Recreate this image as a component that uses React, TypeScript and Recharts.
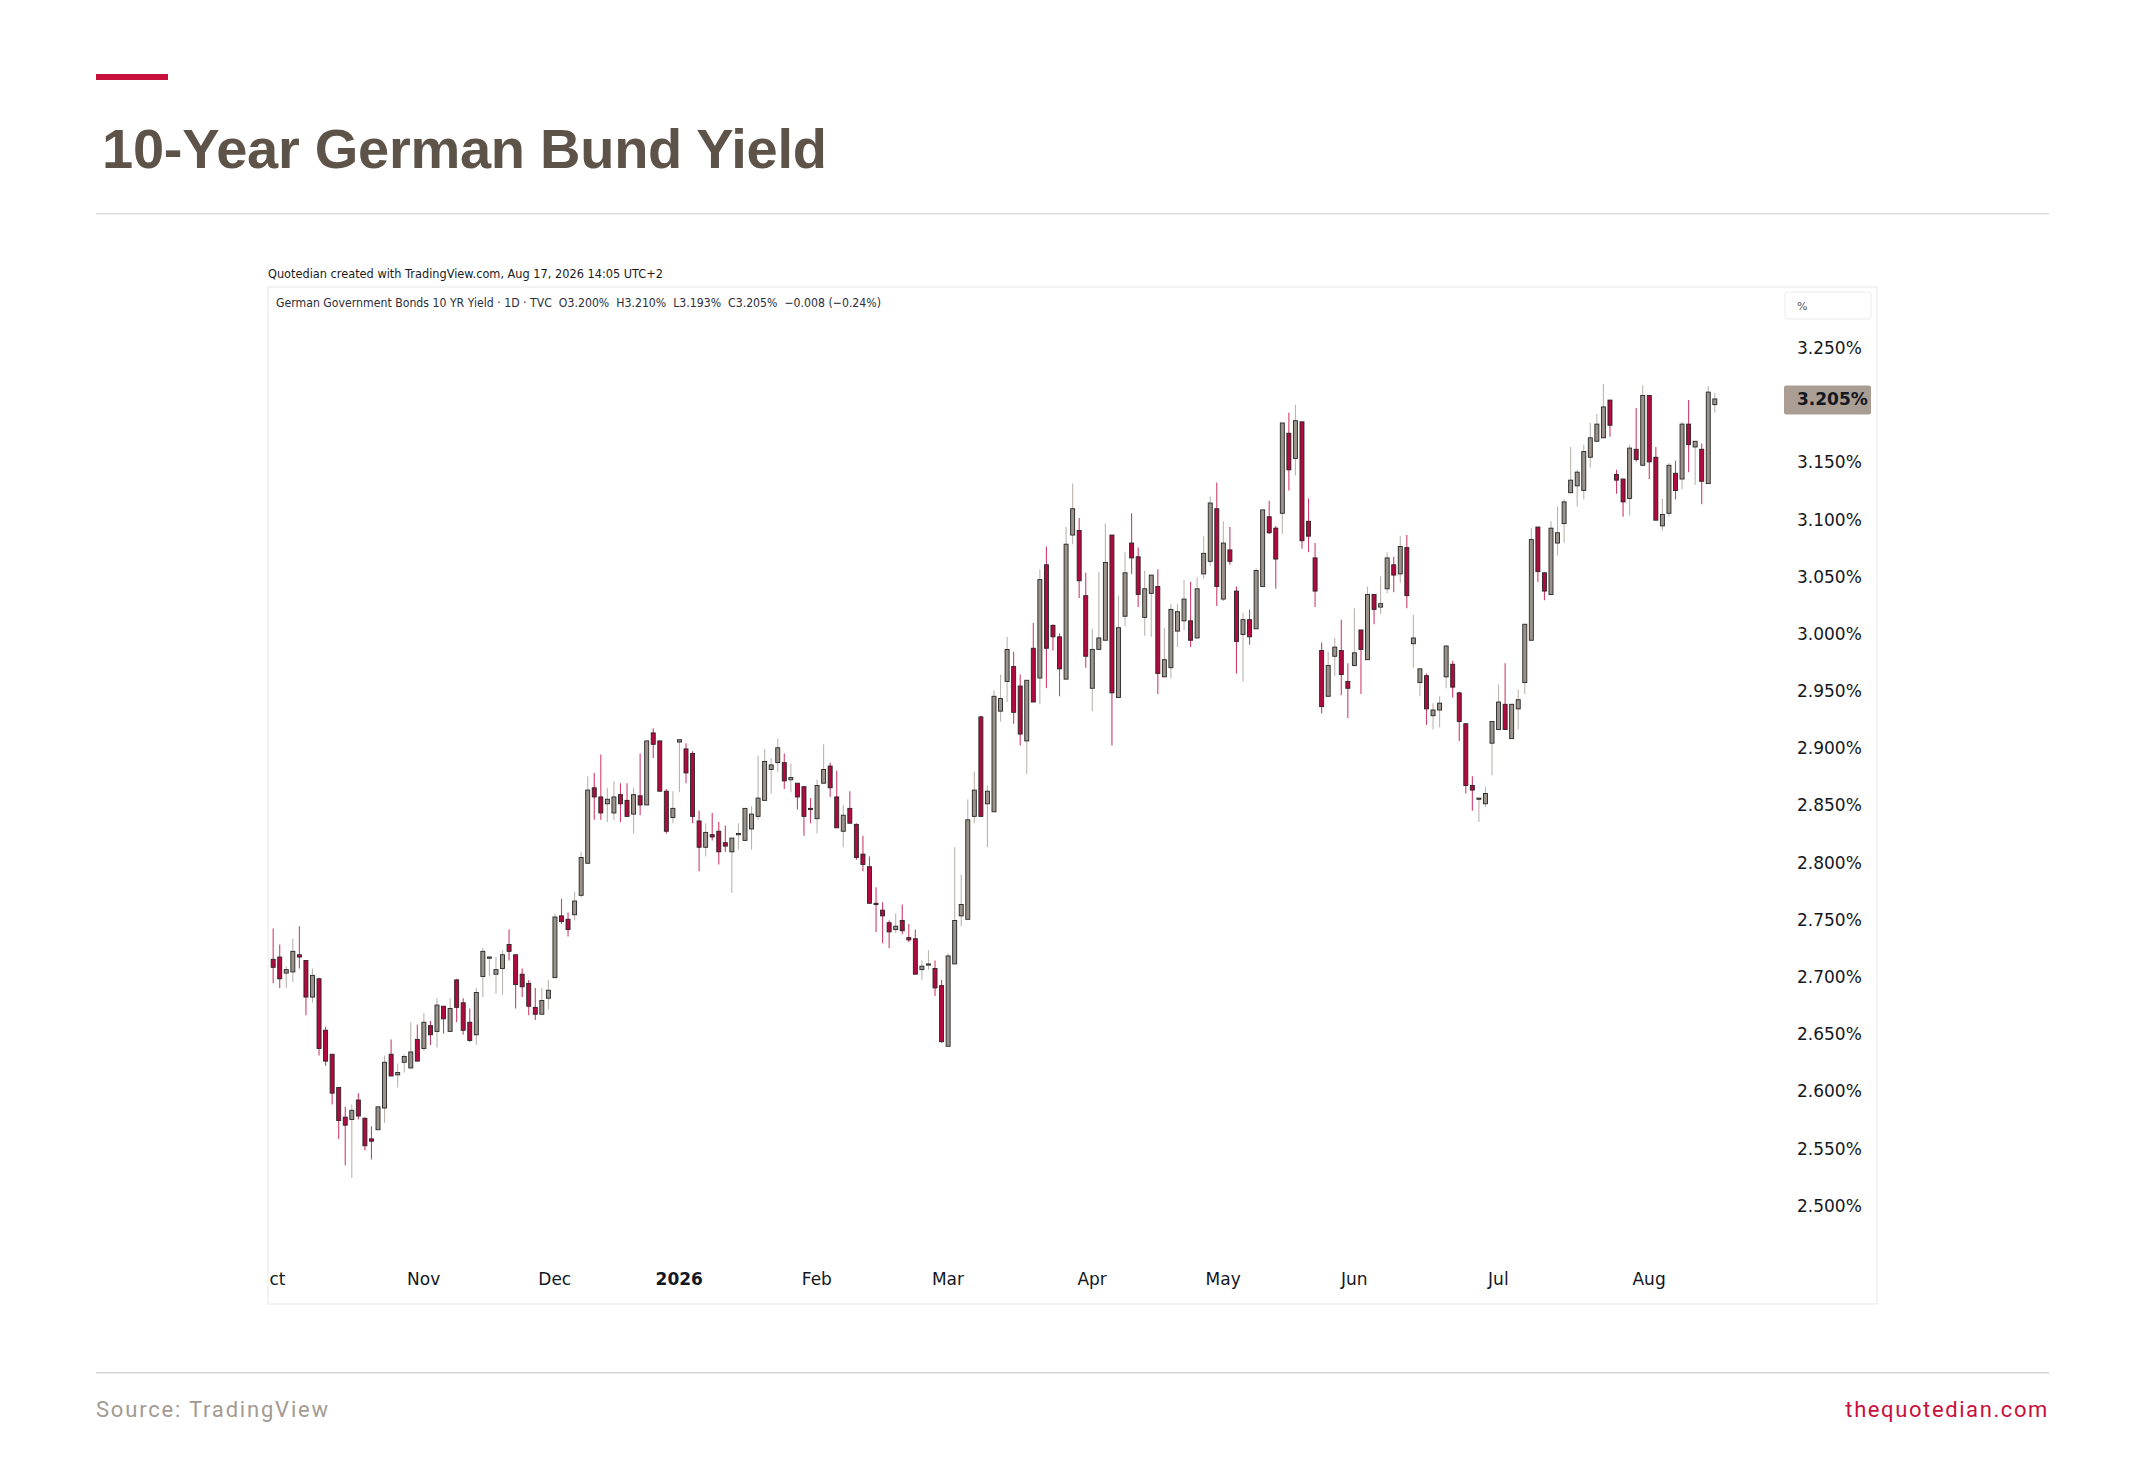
import React from "react";
import { ComposedChart, Bar, XAxis, YAxis } from "recharts";

// ---- trading days (TVC daily bars) ----
const DAYS_2025_10 = [1, 2, 3, 6, 7, 8, 9, 10, 13, 14, 15, 16, 17, 20, 21, 22, 23, 24, 27, 28, 29, 30, 31];
const DAYS_2025_11 = [3, 4, 5, 6, 7, 10, 11, 12, 13, 14, 17, 18, 19, 20, 21, 24, 25, 26, 27, 28];
const DAYS_2025_12 = [1, 2, 3, 4, 5, 8, 9, 10, 11, 12, 15, 16, 17, 18, 19, 22, 23, 29, 30];
const DAYS_2026_01 = [2, 5, 6, 7, 8, 9, 12, 13, 14, 15, 16, 19, 20, 21, 22, 23, 26, 27, 28, 29, 30];
const DAYS_2026_02 = [2, 3, 4, 5, 6, 9, 10, 11, 12, 13, 16, 17, 18, 19, 20, 23, 24, 25, 26, 27];
const DAYS_2026_03 = [2, 3, 4, 5, 6, 9, 10, 11, 12, 13, 16, 17, 18, 19, 20, 23, 24, 25, 26, 27, 30, 31];
const DAYS_2026_04 = [1, 2, 7, 8, 9, 10, 13, 14, 15, 16, 17, 20, 21, 22, 23, 24, 27, 28, 29, 30];
const DAYS_2026_05 = [4, 5, 6, 7, 8, 11, 12, 13, 14, 15, 18, 19, 20, 21, 22, 25, 26, 27, 28, 29];
const DAYS_2026_06 = [1, 2, 3, 4, 5, 8, 9, 10, 11, 12, 15, 16, 17, 18, 19, 22, 23, 24, 25, 26, 29, 30];
const DAYS_2026_07 = [1, 2, 3, 6, 7, 8, 9, 10, 13, 14, 15, 16, 17, 20, 21, 22, 23, 24, 27, 28, 29, 30, 31];
const DAYS_2026_08 = [3, 4, 5, 6, 7, 10, 11, 12, 13, 14, 17];

const MONTHS: [number, number, number[]][] = [
  [2025, 10, DAYS_2025_10],
  [2025, 11, DAYS_2025_11],
  [2025, 12, DAYS_2025_12],
  [2026, 1, DAYS_2026_01],
  [2026, 2, DAYS_2026_02],
  [2026, 3, DAYS_2026_03],
  [2026, 4, DAYS_2026_04],
  [2026, 5, DAYS_2026_05],
  [2026, 6, DAYS_2026_06],
  [2026, 7, DAYS_2026_07],
  [2026, 8, DAYS_2026_08],
];
// first label is shown cut by the pane edge in the source ("Oct" -> "ct")
const MONTH_LABELS = ["ct", "Nov", "Dec", "2026", "Feb", "Mar", "Apr", "May", "Jun", "Jul", "Aug"];

// ---- OHLC (%) ----
const OPEN = [
  2.715, 2.717, 2.703, 2.704, 2.719, 2.714, 2.682, 2.698, 2.653, 2.632,
  2.603, 2.577, 2.575, 2.592, 2.576, 2.558, 2.566, 2.585, 2.632, 2.614,
  2.625, 2.620, 2.645, 2.637, 2.657, 2.652, 2.674, 2.652, 2.697, 2.677,
  2.660, 2.649, 2.700, 2.717, 2.702, 2.707, 2.728, 2.719, 2.702, 2.694,
  2.673, 2.667, 2.681, 2.699, 2.753, 2.750, 2.754, 2.771, 2.799, 2.865,
  2.857, 2.851, 2.843, 2.859, 2.854, 2.842, 2.858, 2.850, 2.913, 2.906,
  2.862, 2.839, 2.905, 2.899, 2.895, 2.836, 2.813, 2.824, 2.827, 2.817,
  2.809, 2.824, 2.819, 2.829, 2.840, 2.854, 2.881, 2.887, 2.887, 2.872,
  2.869, 2.866, 2.847, 2.838, 2.869, 2.884, 2.857, 2.827, 2.847, 2.833,
  2.807, 2.796, 2.764, 2.758, 2.747, 2.741, 2.749, 2.734, 2.733, 2.706,
  2.711, 2.707, 2.692, 2.639, 2.711, 2.753, 2.750, 2.840, 2.927, 2.851,
  2.844, 2.932, 2.958, 2.971, 2.954, 2.906, 2.987, 2.961, 3.060, 3.007,
  2.997, 2.960, 3.086, 3.090, 3.033, 2.952, 2.986, 2.994, 3.086, 2.944,
  3.015, 3.079, 3.067, 3.014, 3.035, 3.041, 2.962, 2.970, 3.002, 3.011,
  3.011, 2.996, 3.052, 3.063, 3.109, 3.030, 3.073, 3.037, 2.999, 3.012,
  3.004, 3.041, 3.102, 3.092, 3.105, 3.175, 3.153, 3.185, 3.098, 3.066,
  2.985, 2.945, 2.980, 2.985, 2.958, 2.972, 3.003, 2.977, 3.034, 3.023,
  3.039, 3.060, 3.052, 3.075, 2.991, 2.957, 2.963, 2.928, 2.933, 2.962,
  2.973, 2.948, 2.921, 2.867, 2.856, 2.851, 2.904, 2.916, 2.938, 2.908,
  2.934, 2.957, 2.994, 3.093, 3.053, 3.034, 3.079, 3.096, 3.123, 3.129,
  3.125, 3.154, 3.168, 3.171, 3.204, 3.139, 3.135, 3.118, 3.161, 3.147,
  3.208, 3.154, 3.094, 3.105, 3.140, 3.135, 3.183, 3.163, 3.161, 3.131,
  3.200,
];
const HIGH = [
  2.742, 2.728, 2.709, 2.733, 2.744, 2.714, 2.707, 2.699, 2.656, 2.632,
  2.603, 2.586, 2.588, 2.598, 2.577, 2.569, 2.586, 2.631, 2.645, 2.624,
  2.632, 2.660, 2.658, 2.668, 2.661, 2.681, 2.674, 2.681, 2.698, 2.681,
  2.672, 2.690, 2.725, 2.718, 2.717, 2.723, 2.741, 2.719, 2.707, 2.697,
  2.690, 2.690, 2.697, 2.755, 2.768, 2.756, 2.774, 2.809, 2.875, 2.878,
  2.894, 2.865, 2.871, 2.869, 2.869, 2.865, 2.895, 2.906, 2.917, 2.906,
  2.864, 2.862, 2.907, 2.904, 2.897, 2.845, 2.834, 2.843, 2.835, 2.832,
  2.821, 2.834, 2.847, 2.849, 2.893, 2.899, 2.891, 2.908, 2.895, 2.886,
  2.869, 2.866, 2.856, 2.872, 2.903, 2.887, 2.880, 2.850, 2.862, 2.834,
  2.823, 2.805, 2.778, 2.765, 2.749, 2.755, 2.763, 2.746, 2.741, 2.714,
  2.723, 2.714, 2.697, 2.720, 2.813, 2.789, 2.855, 2.879, 2.928, 2.867,
  2.950, 2.964, 2.997, 2.984, 2.964, 2.959, 3.009, 3.056, 3.076, 3.008,
  3.000, 3.093, 3.131, 3.101, 3.053, 3.004, 3.054, 3.096, 3.086, 3.033,
  3.071, 3.105, 3.075, 3.055, 3.051, 3.056, 3.005, 3.026, 3.026, 3.047,
  3.045, 3.049, 3.085, 3.120, 3.132, 3.098, 3.093, 3.041, 3.018, 3.021,
  3.057, 3.108, 3.116, 3.094, 3.184, 3.193, 3.200, 3.185, 3.118, 3.079,
  2.992, 2.984, 2.996, 3.012, 2.974, 3.022, 3.003, 3.041, 3.034, 3.050,
  3.071, 3.067, 3.085, 3.086, 3.016, 2.969, 2.965, 2.939, 2.945, 2.989,
  2.976, 2.949, 2.921, 2.875, 2.856, 2.866, 2.923, 2.955, 2.974, 2.938,
  2.951, 3.008, 3.092, 3.093, 3.053, 3.098, 3.111, 3.117, 3.163, 3.143,
  3.165, 3.184, 3.192, 3.218, 3.204, 3.143, 3.135, 3.165, 3.197, 3.217,
  3.208, 3.163, 3.118, 3.149, 3.151, 3.185, 3.204, 3.168, 3.166, 3.216,
  3.210,
];
const LOW = [
  2.694, 2.690, 2.690, 2.695, 2.707, 2.666, 2.677, 2.631, 2.622, 2.588,
  2.558, 2.535, 2.524, 2.575, 2.548, 2.540, 2.566, 2.572, 2.613, 2.603,
  2.616, 2.620, 2.626, 2.635, 2.640, 2.638, 2.650, 2.652, 2.660, 2.649,
  2.643, 2.640, 2.682, 2.700, 2.685, 2.684, 2.714, 2.672, 2.682, 2.666,
  2.662, 2.667, 2.671, 2.699, 2.746, 2.735, 2.749, 2.769, 2.799, 2.837,
  2.837, 2.835, 2.837, 2.835, 2.840, 2.825, 2.841, 2.850, 2.891, 2.862,
  2.825, 2.834, 2.861, 2.869, 2.834, 2.792, 2.805, 2.819, 2.798, 2.809,
  2.773, 2.811, 2.819, 2.811, 2.837, 2.854, 2.860, 2.879, 2.864, 2.861,
  2.846, 2.823, 2.834, 2.825, 2.869, 2.857, 2.830, 2.813, 2.834, 2.802,
  2.792, 2.764, 2.739, 2.729, 2.725, 2.738, 2.737, 2.730, 2.702, 2.697,
  2.706, 2.683, 2.642, 2.639, 2.711, 2.744, 2.750, 2.834, 2.840, 2.813,
  2.844, 2.923, 2.940, 2.921, 2.902, 2.877, 2.940, 2.938, 2.952, 2.985,
  2.945, 2.960, 3.078, 3.031, 2.970, 2.932, 2.986, 2.994, 2.902, 2.944,
  3.006, 3.052, 3.023, 2.998, 2.997, 2.947, 2.962, 2.961, 2.988, 3.003,
  2.988, 2.996, 3.048, 3.059, 3.024, 3.028, 3.060, 2.965, 2.958, 2.990,
  3.004, 3.041, 3.087, 3.039, 3.087, 3.125, 3.138, 3.074, 3.071, 3.023,
  2.930, 2.945, 2.963, 2.946, 2.926, 2.971, 2.947, 2.977, 3.008, 3.017,
  3.035, 3.036, 3.044, 3.022, 2.970, 2.945, 2.920, 2.916, 2.918, 2.952,
  2.944, 2.906, 2.860, 2.845, 2.835, 2.848, 2.876, 2.916, 2.916, 2.908,
  2.916, 2.947, 2.994, 3.045, 3.029, 3.034, 3.068, 3.079, 3.123, 3.111,
  3.117, 3.145, 3.168, 3.171, 3.172, 3.122, 3.102, 3.103, 3.150, 3.147,
  3.135, 3.099, 3.090, 3.102, 3.117, 3.126, 3.141, 3.130, 3.113, 3.131,
  3.193,
];
const CLOSE = [
  2.708, 2.698, 2.706, 2.722, 2.717, 2.682, 2.701, 2.637, 2.626, 2.598,
  2.574, 2.570, 2.583, 2.578, 2.552, 2.556, 2.586, 2.625, 2.613, 2.616,
  2.630, 2.634, 2.626, 2.660, 2.649, 2.675, 2.663, 2.672, 2.673, 2.653,
  2.644, 2.686, 2.722, 2.717, 2.706, 2.719, 2.722, 2.693, 2.691, 2.674,
  2.667, 2.679, 2.688, 2.752, 2.748, 2.741, 2.766, 2.804, 2.863, 2.857,
  2.843, 2.855, 2.857, 2.851, 2.840, 2.859, 2.850, 2.906, 2.903, 2.862,
  2.827, 2.847, 2.907, 2.878, 2.840, 2.813, 2.826, 2.822, 2.809, 2.814,
  2.821, 2.825, 2.847, 2.842, 2.856, 2.888, 2.885, 2.900, 2.871, 2.874,
  2.857, 2.840, 2.846, 2.867, 2.881, 2.865, 2.830, 2.841, 2.834, 2.804,
  2.798, 2.764, 2.763, 2.753, 2.739, 2.744, 2.740, 2.732, 2.702, 2.709,
  2.711, 2.690, 2.643, 2.718, 2.749, 2.763, 2.837, 2.863, 2.840, 2.862,
  2.945, 2.943, 2.986, 2.931, 2.912, 2.959, 2.940, 3.047, 2.987, 2.997,
  2.969, 3.078, 3.109, 3.046, 2.980, 2.986, 2.996, 3.062, 2.948, 3.005,
  3.053, 3.066, 3.034, 3.039, 3.051, 2.965, 2.977, 3.021, 3.019, 3.030,
  2.994, 3.039, 3.070, 3.114, 3.041, 3.079, 3.063, 2.993, 3.012, 2.997,
  3.055, 3.108, 3.088, 3.065, 3.184, 3.143, 3.186, 3.081, 3.085, 3.037,
  2.936, 2.972, 2.988, 2.964, 2.952, 2.983, 2.986, 3.034, 3.021, 3.026,
  3.066, 3.051, 3.076, 3.033, 2.996, 2.969, 2.934, 2.933, 2.939, 2.989,
  2.953, 2.923, 2.867, 2.863, 2.856, 2.860, 2.923, 2.940, 2.916, 2.938,
  2.942, 3.008, 3.082, 3.054, 3.037, 3.092, 3.088, 3.115, 3.134, 3.141,
  3.159, 3.171, 3.183, 3.198, 3.182, 3.134, 3.115, 3.162, 3.152, 3.208,
  3.150, 3.099, 3.104, 3.147, 3.125, 3.183, 3.165, 3.168, 3.133, 3.211,
  3.205,
];

const Y_TICKS = [2.5, 2.55, 2.6, 2.65, 2.7, 2.75, 2.8, 2.85, 2.9, 2.95, 3.0, 3.05, 3.1, 3.15, 3.25];
const Y_DOMAIN: [number, number] = [2.45, 3.3];

const CAPTION = "Quotedian created with TradingView.com, Aug 17, 2026 14:05 UTC+2";
const LEGEND = "German Government Bonds 10 YR Yield \u00b7 1D \u00b7 TVC  O3.200%  H3.210%  L3.193%  C3.205%  \u22120.008 (\u22120.24%)";

// ---- derived table ----
const pad = (n: number) => (n < 10 ? "0" + n : "" + n);
const DATES: string[] = MONTHS.flatMap(([y, m, days]) => days.map((d) => `${y}-${pad(m)}-${pad(d)}`));
const MONTH_TICKS: string[] = MONTHS.map(([y, m, days]) => `${y}-${pad(m)}-${pad(days[0])}`);
const DATA = DATES.map((d, i) => ({
  d,
  o: OPEN[i],
  h: HIGH[i],
  l: LOW[i],
  c: CLOSE[i],
  range: [LOW[i], HIGH[i]] as [number, number],
}));
const LAST_CLOSE = CLOSE[CLOSE.length - 1];
const AXIS_TICKS = [...Y_TICKS, LAST_CLOSE].sort((a, b) => a - b);

// ---- styling ----
const UP_FILL = "#9b928a";
const DN_FILL = "#b3093e";
const UP_WICK = "#bcb5ae";
const DN_WICK = "#cf3f6c";
const BORDER = "#262626";
const AXIS_TEXT = "#131722";

const CHART_W = 1609;
const CHART_H = 1017;
const PLOT_BOTTOM = 975.4;

const Candle = (props: any) => {
  const { x, y, width, height, payload } = props;
  if (!payload || x == null) return null;
  const { o, h, l, c } = payload;
  const top = Math.min(y, y + height);
  const hh = Math.abs(height);
  const up = c >= o;
  const ppu = h > l ? hh / (h - l) : 0;
  const cx = x + width / 2;
  const bTop = top + (h - Math.max(o, c)) * ppu;
  const bBot = top + (h - Math.min(o, c)) * ppu;
  const bw = 4;
  return (
    <g>
      <line x1={cx} x2={cx} y1={top} y2={top + hh} stroke={up ? UP_WICK : DN_WICK} strokeWidth={1.1} />
      <rect
        x={cx - bw / 2}
        y={bTop}
        width={bw}
        height={Math.max(bBot - bTop, 1.2)}
        fill={up ? UP_FILL : DN_FILL}
        stroke={BORDER}
        strokeWidth={0.9}
      />
    </g>
  );
};

const XTick = (props: any) => {
  const { x, payload } = props;
  const idx = MONTH_TICKS.indexOf(payload.value);
  if (idx < 0) return null;
  const label = MONTH_LABELS[idx];
  const bold = label === "2026";
  const first = idx === 0;
  return (
    <text
      x={first ? 1.5 : x}
      y={PLOT_BOTTOM + 23}
      textAnchor={first ? "start" : "middle"}
      fontSize={17}
      fontWeight={bold ? 700 : 400}
      fontFamily="DejaVu Sans"
      fill={AXIS_TEXT}
    >
      {label}
    </text>
  );
};

const YTick = (props: any) => {
  const { y, payload } = props;
  const v: number = payload.value;
  const label = v.toFixed(3) + "%";
  const isLast = Math.abs(v - LAST_CLOSE) < 1e-9;
  return (
    <g>
      {isLast && <rect x={1516} y={y - 13.5} width={87} height={29} rx={2} fill="#aa9e94" />}
      <text
        x={1529}
        y={y + 6.5}
        fontSize={17}
        fontFamily="DejaVu Sans"
        fontWeight={isLast ? 700 : 400}
        fill={AXIS_TEXT}
      >
        {label}
      </text>
    </g>
  );
};

export default function App() {
  return (
    <div
      style={{
        position: "absolute",
        left: 0,
        top: 0,
        width: 2145,
        height: 1458,
        background: "#ffffff",
        overflow: "hidden",
      }}
    >
      <svg width={2145} height={1458} style={{ position: "absolute", left: 0, top: 0 }}>
        <rect x={96} y={74} width={72} height={6} fill="#c8103c" />
        <text
          x={102}
          y={168}
          fontSize={56}
          fontWeight={700}
          fontFamily="Liberation Sans"
          fill="#5e5349"
          textLength={725}
          lengthAdjust="spacing"
        >
          10-Year German Bund Yield
        </text>
        <rect x={96} y={213} width={1953} height={1.5} fill="#dedede" />
        <text
          x={268}
          y={277.5}
          fontSize={12.5}
          fontFamily="DejaVu Sans"
          fill="#1a1a1a"
          textLength={395}
          lengthAdjust="spacingAndGlyphs"
        >
          {CAPTION}
        </text>
        <rect x={268} y={287} width={1609} height={1017} fill="none" stroke="#ececec" strokeWidth={1.2} />
        <text
          x={276}
          y={306.5}
          fontSize={12.5}
          fontFamily="DejaVu Sans"
          fill="#2a2e39"
          textLength={605}
          lengthAdjust="spacingAndGlyphs"
          style={{ whiteSpace: "pre" }}
        >
          {LEGEND}
        </text>
        <rect x={1785} y={292} width={86} height={27} rx={3} fill="#fff" stroke="#eeeeee" strokeWidth={1.2} />
        <text x={1797} y={310} fontSize={11} fontFamily="DejaVu Sans" fill="#555">
          %
        </text>
        <rect x={96} y={1372} width={1953} height={1.5} fill="#d6d6d6" />
        <text x={96} y={1417} fontSize={22} fontFamily="Roboto" fill="#a39a92" letterSpacing={1.8}>
          Source: TradingView
        </text>
        <text
          x={2049}
          y={1417}
          fontSize={22}
          fontFamily="Roboto"
          fill="#c8103c"
          letterSpacing={1.6}
          textAnchor="end"
        >
          thequotedian.com
        </text>
      </svg>
      <div
        style={{
          position: "absolute",
          left: 268,
          top: 287,
          width: CHART_W,
          height: CHART_H,
          overflow: "hidden",
        }}
      >
        <ComposedChart
          width={CHART_W}
          height={CHART_H}
          data={DATA}
          margin={{ top: 3.3, right: 0, bottom: 0, left: 1.7 }}
          barCategoryGap="30%"
        >
          <XAxis
            dataKey="d"
            ticks={MONTH_TICKS}
            interval={0}
            height={CHART_H - PLOT_BOTTOM}
            axisLine={false}
            tickLine={false}
            tick={<XTick />}
          />
          <YAxis
            orientation="right"
            type="number"
            domain={Y_DOMAIN}
            allowDataOverflow
            ticks={AXIS_TICKS}
            interval={0}
            width={159.1}
            axisLine={false}
            tickLine={false}
            tick={<YTick />}
          />
          <Bar dataKey="range" isAnimationActive={false} shape={<Candle />} />
        </ComposedChart>
      </div>
    </div>
  );
}
